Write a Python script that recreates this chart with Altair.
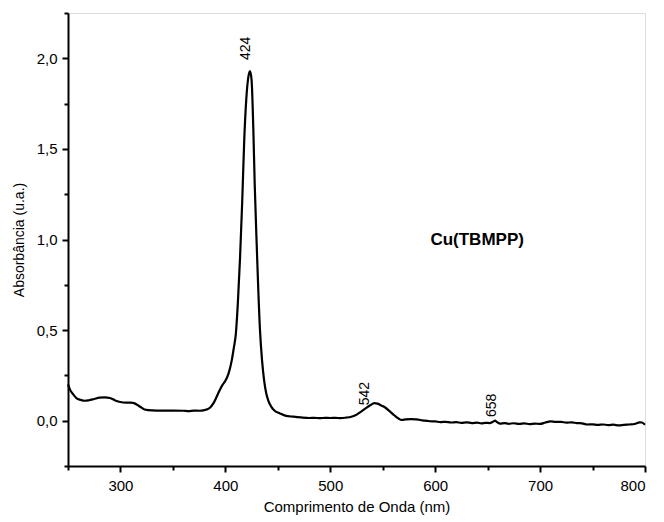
import altair as alt
import pandas as pd

wavelength = [250, 252, 255, 258, 262, 266, 270, 275, 280, 285, 290, 295, 300, 305, 310, 313, 318, 323, 330,
              340, 350, 360, 365, 370, 375, 380, 385, 389, 393, 397, 400, 403, 406, 408, 410, 412, 414, 416,
              418, 420, 422, 423.5, 425, 426.7, 428, 430, 433, 435, 437, 439, 441, 444, 447, 452, 457, 465,
              472, 480, 485, 490, 495, 500, 505, 510, 515, 520, 524, 528, 533, 538, 542, 545, 549, 553, 557,
              561, 565, 568, 572, 577, 582, 586, 590, 595, 600, 605, 610, 615, 620, 625, 630, 635, 640, 644,
              648, 652, 655, 657, 659, 662, 666, 670, 675, 680, 685, 690, 695, 700, 705, 710, 715, 720, 725,
              730, 735, 740, 745, 750, 755, 760, 765, 770, 775, 780, 785, 790, 795, 797, 800]
absorbance = [0.20, 0.17, 0.145, 0.125, 0.115, 0.11, 0.113, 0.12, 0.127, 0.129, 0.125, 0.112, 0.103, 0.10,
              0.10, 0.097, 0.08, 0.062, 0.057, 0.056, 0.056, 0.055, 0.053, 0.056, 0.055, 0.058, 0.07, 0.10,
              0.149, 0.195, 0.22, 0.26, 0.33, 0.40, 0.48, 0.66, 0.90, 1.20, 1.55, 1.78, 1.90, 1.93, 1.88,
              1.60, 1.30, 0.95, 0.50, 0.33, 0.22, 0.15, 0.11, 0.075, 0.055, 0.04, 0.028, 0.022, 0.018, 0.015,
              0.016, 0.014, 0.016, 0.015, 0.016, 0.014, 0.017, 0.022, 0.03, 0.045, 0.065, 0.085, 0.097,
              0.094, 0.083, 0.07, 0.05, 0.03, 0.012, 0.004, 0.007, 0.009, 0.007, 0.004, 0.0, -0.003, -0.004,
              -0.008, -0.006, -0.010, -0.008, -0.012, -0.009, -0.013, -0.011, -0.015, -0.012, -0.013, -0.006,
              0.0, -0.008, -0.016, -0.013, -0.017, -0.014, -0.018, -0.015, -0.019, -0.016, -0.018, -0.01,
              -0.004, -0.007, -0.006, -0.011, -0.009, -0.013, -0.015, -0.021, -0.02, -0.023, -0.021, -0.024,
              -0.022, -0.026, -0.023, -0.021, -0.018, -0.009, -0.01, -0.022]

peak_labels = ["424", "542", "658"]
peak_x = [420, 533, 654]
peak_y = [1.99, 0.085, 0.02]

sample_label = ["Cu(TBMPP)"]
sample_x = [640]
sample_y = [1.0]

x_ticks = [250, 300, 350, 400, 450, 500, 550, 600, 650, 700, 750, 800]
y_ticks = [-0.25, 0.0, 0.25, 0.5, 0.75, 1.0, 1.25, 1.5, 1.75, 2.0, 2.25]

spec_df = pd.DataFrame({"nm": wavelength, "A": absorbance})
peak_df = pd.DataFrame({"label": peak_labels, "nm": peak_x, "A": peak_y})
sample_df = pd.DataFrame({"label": sample_label, "nm": sample_x, "A": sample_y})

FONT = "Liberation Sans"

x_scale = alt.Scale(domain=[250, 800], nice=False, zero=False)
y_scale = alt.Scale(domain=[-0.25, 2.25], nice=False, zero=False)

x_axis = alt.Axis(
    title="Comprimento de Onda (nm)", values=x_ticks,
    labelExpr="datum.value % 100 == 0 ? datum.value : ''",
    tickSize={"condition": {"test": "datum.value % 100 == 0", "value": 6}, "value": 4},
    grid=False, domainColor="black", domainWidth=2, tickColor="black", tickWidth=2,
    labelFont=FONT, labelFontSize=15, labelColor="black", labelPadding=6,
    titleFont=FONT, titleFontSize=15, titleFontWeight="normal", titleColor="black", titlePadding=6,
)
y_axis = alt.Axis(
    title="Absorbância (u.a.)", values=y_ticks,
    labelExpr="(abs(datum.value*2 - round(datum.value*2)) < 0.001 && datum.value >= 0) ? replace(format(datum.value, '.1f'), '.', ',') : ''",
    tickSize={"condition": {"test": "abs(datum.value*2 - round(datum.value*2)) < 0.001", "value": 6}, "value": 4},
    grid=False, domainColor="black", domainWidth=2, tickColor="black", tickWidth=2,
    labelFont=FONT, labelFontSize=15, labelColor="black", labelPadding=5,
    titleFont=FONT, titleFontSize=14, titleFontWeight="normal", titleColor="black", titlePadding=10,
)

line = alt.Chart(spec_df).mark_line(color="black", strokeWidth=2.2, interpolate="monotone").encode(
    x=alt.X("nm:Q", scale=x_scale, axis=x_axis),
    y=alt.Y("A:Q", scale=y_scale, axis=y_axis),
)

peaks = alt.Chart(peak_df).mark_text(
    angle=270, align="left", baseline="middle", font=FONT, fontSize=14, color="black"
).encode(x="nm:Q", y="A:Q", text="label:N")

sample = alt.Chart(sample_df).mark_text(
    align="center", baseline="middle", font=FONT, fontSize=17, fontWeight="bold", color="black"
).encode(x="nm:Q", y="A:Q", text="label:N")

chart = alt.layer(line, peaks, sample).properties(
    width=577, height=453,
    padding={"left": 4, "top": 4, "right": 5, "bottom": 5},
).configure_view(stroke="black", strokeWidth=1.5).configure(background="white")

chart.save("out.html", embed_options={"renderer": "svg", "actions": False})
